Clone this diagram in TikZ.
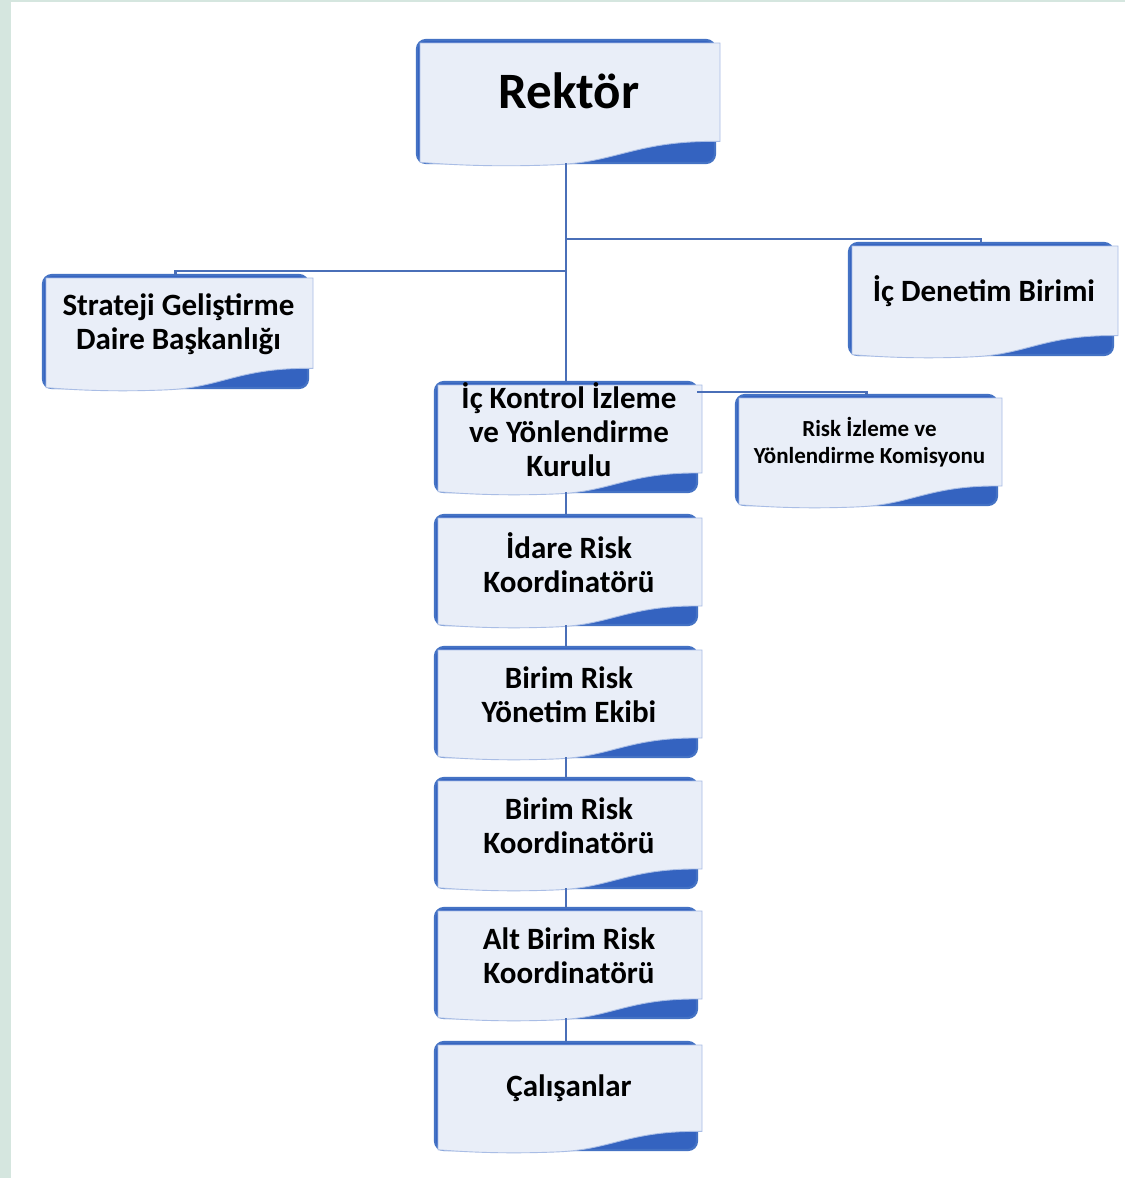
\documentclass[tikz,border=0pt]{standalone}
\usepackage{fontspec}
\setmainfont{Carlito}
\usetikzlibrary{calc}
\definecolor{stripcol}{HTML}{D5E6DF}
\definecolor{backfill}{HTML}{3463C0}
\definecolor{backdraw}{HTML}{4472C4}
\definecolor{frontfill}{HTML}{E9EEF8}
\definecolor{frontdraw}{HTML}{A9BDE5}
\definecolor{conncol}{HTML}{4A6FB8}
\tikzset{
  boxback/.style={draw=backdraw, fill=backfill, line width=2.2pt, rounded corners=9pt},
  boxfront/.style={draw=frontdraw, fill=frontfill, line width=0.9pt},
  boxnode/.style={rectangle, inner sep=0pt, draw=none},
  boxtext/.style={align=center, text=black, inner sep=0pt},
  conn/.style={draw=conncol, line width=2.2pt},
}
\newcommand\obox[8][7.5]{%
  \pgfmathsetmacro\bW{#5-#3+2}%
  \pgfmathsetmacro\bH{#6-#4}%
  \pgfmathsetmacro\nW{#5-#3}%
  \pgfmathsetmacro\nH{#6-#4}%
  \draw[boxback] (#3,#4) rectangle (#5,#6);
  \begin{scope}[shift={(#3+3,#4+3)}, x=\bW pt, y=-\bH pt]
    \draw[boxfront] (0,0) -- (1,0) -- (1,.80)
      .. controls (.72,.79) and (.66,.97) .. (.45,.99)
      .. controls (.25,1.01) and (.1,.99) .. (0,.97) -- cycle;
  \end{scope}
  \node[boxnode, minimum width=\nW pt, minimum height=\nH pt] (#2) at ({(#3+#5)/2},{(#4+#6)/2}) {};
  \node[boxtext, font=#7] at ([xshift=3pt,yshift=#1pt]#2.center) {#8};
}
\newcommand\bigf{\fontsize{51}{56}\selectfont\bfseries}
\newcommand\midf{\fontsize{31}{34}\selectfont\bfseries}
\newcommand\smlf{\fontsize{23}{27}\selectfont\bfseries}
\begin{document}
\begin{tikzpicture}[x=1pt, y=-1pt]
\useasboundingbox (0,0) rectangle (1125,1178);
\fill[white] (0,0) rectangle (1125,1178);
\fill[stripcol] (0,0) rectangle (11,1178);
\fill[stripcol] (11,0) rectangle (1125,1.5);

\obox[10.5]{rektor}{417}{40}{715}{163}{\bigf}{Rektör}
\obox{strateji}{43}{275}{308}{388}{\midf}{Strateji Geliştirme\\Daire Başkanlığı}
\obox{icdenetim}{849}{243}{1113}{355}{\midf}{İç Denetim Birimi}
\obox{ickontrol}{435}{382}{697}{492}{\midf}{İç Kontrol İzleme\\ve Yönlendirme\\Kurulu}
\obox{risk}{736}{395}{997}{505}{\smlf}{Risk İzleme ve\\Yönlendirme Komisyonu}
\obox{idare}{435}{515}{697}{625}{\midf}{İdare Risk\\Koordinatörü}
\obox{birimekip}{435}{647}{697}{757}{\midf}{Birim Risk\\Yönetim Ekibi}
\obox{birimkoord}{435}{778}{697}{888}{\midf}{Birim Risk\\Koordinatörü}
\obox{altbirim}{435}{908}{697}{1018}{\midf}{Alt Birim Risk\\Koordinatörü}
\obox{calisan}{435}{1042}{697}{1150}{\midf}{Çalışanlar}

\draw[conn] (rektor.south) -- (ickontrol.north);
\draw[conn] ([yshift=4pt]icdenetim.north -| rektor.south) -| (icdenetim.north);
\draw[conn] ([yshift=4pt]strateji.north -| rektor.south) -| (strateji.north);
\draw[conn] ([yshift=3pt]risk.north -| ickontrol.east) -| (risk.north);
\draw[conn] (ickontrol.south) -- (idare.north);
\draw[conn] (idare.south) -- (birimekip.north);
\draw[conn] (birimekip.south) -- (birimkoord.north);
\draw[conn] (birimkoord.south) -- (altbirim.north);
\draw[conn] (altbirim.south) -- (calisan.north);
\end{tikzpicture}
\end{document}
